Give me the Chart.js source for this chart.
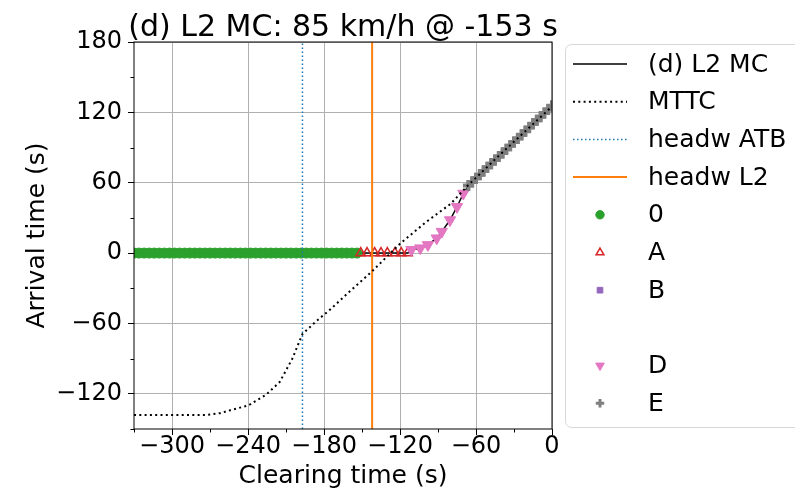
<!DOCTYPE html>
<html>
<head>
<meta charset="utf-8">
<script src="https://cdn.jsdelivr.net/npm/chart.js@4/dist/chart.umd.min.js"></script>
<style>
  html, body { margin: 0; padding: 0; background: #fff; }
  #wrap { width: 795px; height: 494px; }
</style>
</head>
<body>
<div id="wrap"><canvas id="mcchart"></canvas></div>
<script>
// axis ranges and ticks
const xMin = -330, xMax = 0;
const yMin = -150, yMax = 180;
const xTicks = [-300, -240, -180, -120, -60, 0];
const yTicks = [-120, -60, 0, 60, 120, 180];

// class 0 (green circles)
const zeroTime = [-330, -326, -322, -318, -314, -310, -306, -302, -298, -294, -290, -286, -282, -278, -274,
                  -270, -266, -262, -258, -254, -250, -246, -242, -238, -234, -230, -226, -222, -218, -214,
                  -210, -206, -202, -198, -194, -190, -186, -182, -178, -174, -170, -166, -162, -158, -154];
const zeroArrival = [0, 0, 0, 0, 0, 0, 0, 0, 0, 0, 0, 0, 0, 0, 0,
                     0, 0, 0, 0, 0, 0, 0, 0, 0, 0, 0, 0, 0, 0, 0,
                     0, 0, 0, 0, 0, 0, 0, 0, 0, 0, 0, 0, 0, 0, 0];
// class A (open red triangles)
const aTime = [-151, -146, -140, -135, -130, -124, -119, -114];
const aArrival = [0, 0, 0, 0, 0, 0, 0, 0];
// class B (none in this run)
const bTime = [];
const bArrival = [];
// class D (pink down triangles)
const dTime = [-111, -104, -98, -91, -87, -80.5, -75, -70];
const dArrival = [2.8, 4.2, 7, 12.7, 18.3, 28.2, 39.5, 50.8];
// class E (grey plus)
const eTime = [-66, -63, -60, -57, -54, -51, -48, -45, -42, -39, -36, -33, -30, -27, -24, -21, -18, -15, -12, -9, -6, -3, 0];
const eArrival = [57.6, 60.7, 63.8, 66.9, 69.9, 73.1, 76.2, 79.3, 82.3, 85.4, 88.5, 91.6, 94.7, 97.8, 100.9,
                  104, 107.1, 110.2, 113.2, 116.3, 119.4, 122.5, 125.6];
// MTTC curve
const mttcTime = [-330, -290, -273, -262, -254, -240, -226, -215, -205, -197, -186, -175, -160, -142, -120, -100, -80, -67, -40, -20, 0];
const mttcArrival = [-138, -138, -138, -136.5, -134, -130, -121, -110, -90, -69, -58, -48, -33, -15.5, 8, 26, 42, 57, 85, 105, 125];
// headways
const headwAtb = -197;
const headwL2 = -142;

const titleText = '(d) L2 MC: 85 km/h @ -153 s';

const pts = (xs, ys) => xs.map((x, i) => ({x: x, y: ys[i]}));
const l2mcPoints = [].concat(pts(zeroTime, zeroArrival), pts(aTime, aArrival), pts(dTime, dArrival), pts(eTime, eArrival))
  .sort((p, q) => p.x - q.x);

Chart.defaults.font.family = 'DejaVu Sans';
Chart.defaults.color = '#000';

const minus = v => String(v).replace('-', '\u2212');

const legendOrder = ['(d) L2 MC', 'MTTC', 'headw ATB', 'headw L2', '0', 'A', 'B', null, 'D', 'E'];
// legend symbols are a bit smaller than the plotted markers
const legendRadius = {'0': 4.2, 'A': 4.5, 'B': 4, 'D': 5, 'E': 4.2};

// matplotlib style frame, minor ticks, title over the axes and boxed legend
const frame = {
  id: 'frame',
  afterDatasetsDraw(chart) {
    const {ctx, chartArea: a, scales} = chart;
    ctx.save();
    ctx.strokeStyle = '#000';
    ctx.lineWidth = 1;
    ctx.strokeRect(a.left, a.top, a.right - a.left, a.bottom - a.top);
    ctx.beginPath();
    for (let v = -330; v <= 0; v += 30) {
      if (v % 60 === 0) continue;
      const px = Math.round(scales.x.getPixelForValue(v)) + 0.5;
      ctx.moveTo(px, a.bottom); ctx.lineTo(px, a.bottom + 3.5);
    }
    for (let v = -150; v <= 180; v += 30) {
      if (v % 60 === 0) continue;
      const py = Math.round(scales.y.getPixelForValue(v)) + 0.5;
      ctx.moveTo(a.left, py); ctx.lineTo(a.left - 3.5, py);
    }
    ctx.stroke();
    ctx.restore();
  },
  afterDraw(chart) {
    const {ctx, chartArea: a} = chart;
    ctx.save();
    ctx.fillStyle = '#000';
    ctx.font = '30px "DejaVu Sans"';
    ctx.textAlign = 'center';
    ctx.textBaseline = 'alphabetic';
    ctx.fillText(titleText, (a.left + a.right) / 2, 36);

    ctx.textAlign = 'left';
    ctx.beginPath();
    ctx.roundRect(565.5, 44.5, 260, 383, 6);
    ctx.fillStyle = 'rgba(255,255,255,0.8)';
    ctx.fill();
    ctx.strokeStyle = '#d6d6d6';
    ctx.lineWidth = 1;
    ctx.stroke();
    ctx.font = '25px "DejaVu Sans"';
    ctx.textBaseline = 'middle';
    legendOrder.forEach((label, i) => {
      const y = 64 + i * 37.7;
      if (label === null) return;
      const ds = chart.data.datasets.find(d => d.label === label);
      ctx.save();
      if (ds.showLine) {
        ctx.strokeStyle = ds.borderColor;
        ctx.lineWidth = ds.borderWidth;
        ctx.setLineDash(ds.borderDash || []);
        ctx.beginPath();
        ctx.moveTo(573, y); ctx.lineTo(627, y);
        ctx.stroke();
      } else {
        ctx.fillStyle = ds.backgroundColor;
        ctx.strokeStyle = ds.borderColor;
        ctx.lineWidth = label === 'E' ? 3 : ds.borderWidth;
        Chart.helpers.drawPoint(ctx, {
          pointStyle: ds.pointStyle, radius: legendRadius[label],
          rotation: ds.pointRotation || 0, borderWidth: ctx.lineWidth
        }, 600, y);
      }
      ctx.restore();
      ctx.fillStyle = '#000';
      ctx.fillText(label, 648, y + 1);
    });
    ctx.restore();
  }
};

const ctx = document.getElementById('mcchart').getContext('2d');
const mcchart = new Chart(ctx, {
  type: 'scatter',
  data: {
    datasets: [{
      label: 'MTTC',
      data: pts(mttcTime, mttcArrival),
      showLine: true,
      borderColor: '#000',
      borderWidth: 2,
      borderDash: [2, 3.3],
      pointRadius: 0,
      order: 1
    }, {
      label: 'headw ATB',
      data: [{x: headwAtb, y: yMin}, {x: headwAtb, y: yMax}],
      showLine: true,
      borderColor: '#1f77b4',
      borderWidth: 1.5,
      borderDash: [1.5, 2.5],
      pointRadius: 0,
      order: 2
    }, {
      label: 'headw L2',
      data: [{x: headwL2, y: yMin}, {x: headwL2, y: yMax}],
      showLine: true,
      borderColor: '#ff7f0e',
      borderWidth: 2,
      pointRadius: 0,
      order: 3
    }, {
      label: 'E',
      data: pts(eTime, eArrival),
      showLine: false,
      pointStyle: 'cross',
      pointRadius: 5.5,
      borderWidth: 4,
      borderColor: '#7f7f7f',
      backgroundColor: '#7f7f7f',
      order: 4
    }, {
      label: 'D',
      data: pts(dTime, dArrival),
      showLine: false,
      pointStyle: 'triangle',
      pointRotation: 180,
      pointRadius: 6.5,
      borderWidth: 1,
      borderColor: '#e377c2',
      backgroundColor: '#e377c2',
      order: 5
    }, {
      label: 'B',
      data: pts(bTime, bArrival),
      showLine: false,
      pointStyle: 'rect',
      pointRadius: 4.5,
      borderWidth: 1,
      borderColor: '#9467bd',
      backgroundColor: '#9467bd',
      order: 6
    }, {
      label: 'A',
      data: pts(aTime, aArrival),
      showLine: false,
      pointStyle: 'triangle',
      pointRadius: 5.5,
      borderWidth: 1.5,
      borderColor: '#d62728',
      backgroundColor: 'rgba(0,0,0,0)',
      order: 7
    }, {
      label: '0',
      data: pts(zeroTime, zeroArrival),
      showLine: false,
      pointStyle: 'circle',
      pointRadius: 5,
      borderWidth: 1,
      borderColor: '#2ca02c',
      backgroundColor: '#2ca02c',
      order: 8
    }, {
      label: '(d) L2 MC',
      data: l2mcPoints,
      showLine: true,
      borderColor: '#000',
      borderWidth: 1.5,
      pointRadius: 0,
      order: 9
    }]
  },
  options: {
    responsive: true,
    maintainAspectRatio: false,
    animation: false,
    layout: { padding: { left: 0, right: 243, top: 42, bottom: 0 } },
    plugins: {
      legend: { display: false },
      tooltip: { enabled: false },
      title: { display: false }
    },
    scales: {
      x: {
        type: 'linear',
        min: xMin,
        max: xMax,
        afterBuildTicks: s => { s.ticks = xTicks.map(v => ({value: v})); },
        afterFit: s => { s.height = 65; },
        ticks: { callback: minus, font: { size: 24 }, padding: -3, maxRotation: 0, autoSkip: false, color: '#000' },
        grid: { color: '#b0b0b0', lineWidth: 1, tickColor: '#000', tickLength: 6 },
        border: { display: false },
        title: { display: true, text: 'Clearing time (s)', font: { size: 25 }, padding: { top: 0, bottom: 3 }, color: '#000' }
      },
      y: {
        type: 'linear',
        min: yMin,
        max: yMax,
        afterBuildTicks: s => { s.ticks = yTicks.map(v => ({value: v})); },
        afterFit: s => { s.width = 134; },
        ticks: { callback: minus, font: { size: 24 }, padding: 6, autoSkip: false, color: '#000' },
        grid: { color: '#b0b0b0', lineWidth: 1, tickColor: '#000', tickLength: 6 },
        border: { display: false },
        title: { display: true, text: 'Arrival time (s)', font: { size: 25 }, padding: { top: 22, bottom: 0 }, color: '#000' }
      }
    }
  },
  plugins: [frame]
});
</script>
</body>
</html>
